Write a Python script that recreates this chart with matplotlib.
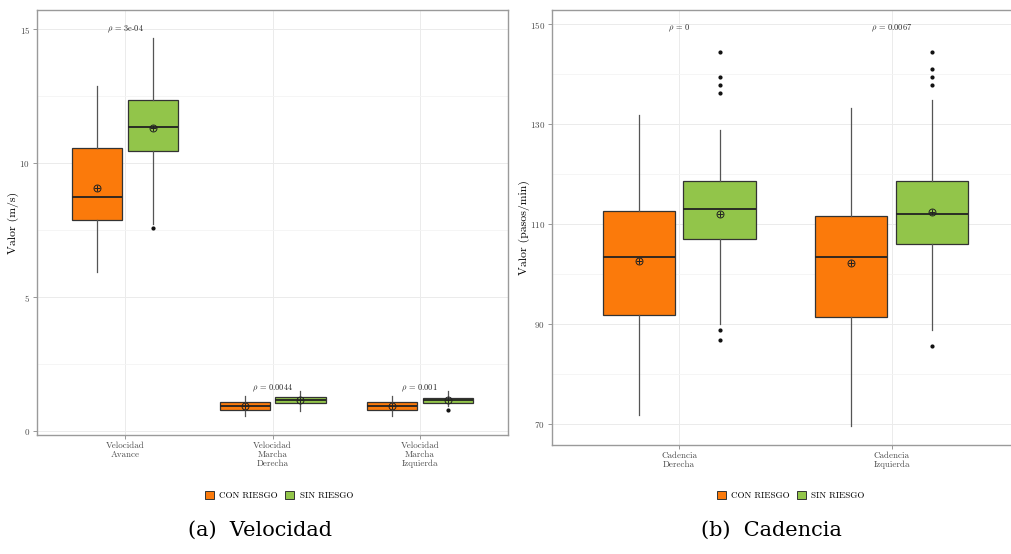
import matplotlib
matplotlib.use("Agg")
import matplotlib.pyplot as plt
from matplotlib.patches import Patch

plt.rcParams['font.family'] = ['cmr10', 'DejaVu Serif']
plt.rcParams['mathtext.fontset'] = 'cm'
plt.rcParams['axes.formatter.use_mathtext'] = True

# ---- datos (a) Velocidad ----
vel_cats = ["Velocidad\nAvance", "Velocidad\nMarcha\nDerecha", "Velocidad\nMarcha\nIzquierda"]
vel_pvals = ["3e-04", "0.0044", "0.001"]
vel_ptext_y = [15.0, 1.58, 1.58]
vel_yticks = [0, 5, 10, 15]
vel_yminor = [2.5, 7.5, 12.5]
# CON RIESGO
vel_con_q1 = [7.87, 0.78, 0.77]
vel_con_med = [8.73, 0.93, 0.93]
vel_con_q3 = [10.55, 1.09, 1.07]
vel_con_lo = [5.93, 0.57, 0.55]
vel_con_hi = [12.87, 1.31, 1.31]
vel_con_mean = [9.08, 0.92, 0.92]
vel_con_out = [[], [], []]
# SIN RIESGO
vel_sin_q1 = [10.44, 1.06, 1.06]
vel_sin_med = [11.35, 1.15, 1.15]
vel_sin_q3 = [12.35, 1.27, 1.24]
vel_sin_lo = [7.72, 0.76, 0.93]
vel_sin_hi = [14.68, 1.49, 1.49]
vel_sin_mean = [11.32, 1.15, 1.15]
vel_sin_out = [[7.56], [], [0.77]]

# ---- datos (b) Cadencia ----
cad_cats = ["Cadencia\nDerecha", "Cadencia\nIzquierda"]
cad_pvals = ["0", "0.0067"]
cad_ptext_y = [149.1, 149.1]
cad_yticks = [70, 90, 110, 130, 150]
cad_yminor = [80, 100, 120, 140]
cad_con_q1 = [91.9, 91.5]
cad_con_med = [103.5, 103.5]
cad_con_q3 = [112.6, 111.6]
cad_con_lo = [71.9, 69.7]
cad_con_hi = [131.8, 133.2]
cad_con_mean = [102.6, 102.3]
cad_con_out = [[], []]
cad_sin_q1 = [107.1, 106.1]
cad_sin_med = [113.1, 112.1]
cad_sin_q3 = [118.7, 118.7]
cad_sin_lo = [90.1, 88.9]
cad_sin_hi = [128.9, 134.9]
cad_sin_mean = [112.1, 112.5]
cad_sin_out = [[144.5, 139.5, 137.9, 136.3, 88.8, 86.9], [144.5, 141.1, 139.5, 137.9, 85.7]]

grupos = ["CON RIESGO", "SIN RIESGO"]
colores = ["#FB7A0B", "#92C54A"]
edge = "#333333"


def make_stats(q1, med, q3, lo, hi, mean, out):
    st = []
    for i in range(len(q1)):
        st.append(dict(q1=q1[i], med=med[i], q3=q3[i], whislo=lo[i], whishi=hi[i],
                       mean=mean[i], fliers=out[i]))
    return st


def panel(ax, cats, con, sin, pvals, py, ylim, yticks, yminor, ylabel, lpad):
    n = len(cats)
    pos = list(range(1, n + 1))
    for k, (stats, col) in enumerate(zip([con, sin], colores)):
        off = -0.19 if k == 0 else 0.19
        p = [x + off for x in pos]
        ax.bxp(stats, positions=p, widths=0.34, patch_artist=True, showcaps=False,
               showmeans=True, meanline=False,
               boxprops=dict(facecolor=col, edgecolor=edge, linewidth=0.9),
               medianprops=dict(color="#222222", linewidth=1.3),
               whiskerprops=dict(color="#555555", linewidth=0.9),
               flierprops=dict(marker='o', markerfacecolor='#111111', markeredgecolor='#111111',
                               markersize=2.0, linestyle='none'),
               meanprops=dict(marker='o', markerfacecolor='none', markeredgecolor='#222222',
                              markersize=5, markeredgewidth=0.7),
               zorder=3)
        ax.plot(p, [s['mean'] for s in stats], linestyle='none', marker='+', color='#222222',
                markersize=5, markeredgewidth=0.7, zorder=4)
    for i in range(n):
        ax.text(pos[i], py[i], r"$\rho$ = " + pvals[i], ha='center', va='center', fontsize=6,
                color='#222222', zorder=5)
    ax.set_xlim(0.4, n + 0.6)
    ax.set_ylim(*ylim)
    ax.set_xticks(pos)
    ax.set_xticklabels(cats, fontsize=6.5, color='#4D4D4D', linespacing=1.05)
    ax.set_yticks(yticks)
    ax.set_yticks(yminor, minor=True)
    ax.tick_params(axis='y', labelsize=6.5, labelcolor='#4D4D4D', length=3, color='#888888', width=0.6, pad=2)
    ax.tick_params(axis='x', length=3, color='#888888', width=0.6, pad=2)
    ax.tick_params(axis='y', which='minor', length=0)
    ax.grid(True, which='major', color='#EBEBEB', linewidth=0.7, zorder=0)
    ax.grid(True, which='minor', axis='y', color='#F4F4F4', linewidth=0.6, zorder=0)
    ax.set_axisbelow(True)
    for s in ax.spines.values():
        s.set_color('#9A9A9A')
        s.set_linewidth(1.0)
    ax.set_ylabel(ylabel, fontsize=8.5, labelpad=lpad)


fig = plt.figure(figsize=(10.11, 5.54), dpi=100)

ax1 = fig.add_axes([0.0366, 0.2148, 0.4659, 0.7671])
panel(ax1, vel_cats,
      make_stats(vel_con_q1, vel_con_med, vel_con_q3, vel_con_lo, vel_con_hi, vel_con_mean, vel_con_out),
      make_stats(vel_sin_q1, vel_sin_med, vel_sin_q3, vel_sin_lo, vel_sin_hi, vel_sin_mean, vel_sin_out),
      vel_pvals, vel_ptext_y, (-0.15, 15.71), vel_yticks, vel_yminor, "Valor (m/s)", 0)

ax2 = fig.add_axes([0.5457, 0.1968, 0.4622, 0.7852])
panel(ax2, cad_cats,
      make_stats(cad_con_q1, cad_con_med, cad_con_q3, cad_con_lo, cad_con_hi, cad_con_mean, cad_con_out),
      make_stats(cad_sin_q1, cad_sin_med, cad_sin_q3, cad_sin_lo, cad_sin_hi, cad_sin_mean, cad_sin_out),
      cad_pvals, cad_ptext_y, (65.86, 152.86), cad_yticks, cad_yminor, "Valor (pasos/min)", 0)

handles = [Patch(facecolor=c, edgecolor=edge, linewidth=0.7, label=g) for c, g in zip(colores, grupos)]
for cx in [0.276, 0.782]:
    fig.legend(handles=handles, loc='center', bbox_to_anchor=(cx, 0.105), ncol=2, frameon=False,
               fontsize=6.5, handlelength=1.0, handleheight=0.9, handletextpad=0.6, columnspacing=0.8)

fig.text(0.257, 0.025, "(a)  Velocidad", ha='center', va='bottom', fontsize=15, family='DejaVu Serif')
fig.text(0.763, 0.025, "(b)  Cadencia", ha='center', va='bottom', fontsize=15, family='DejaVu Serif')

fig.savefig("out.png", dpi=100)
